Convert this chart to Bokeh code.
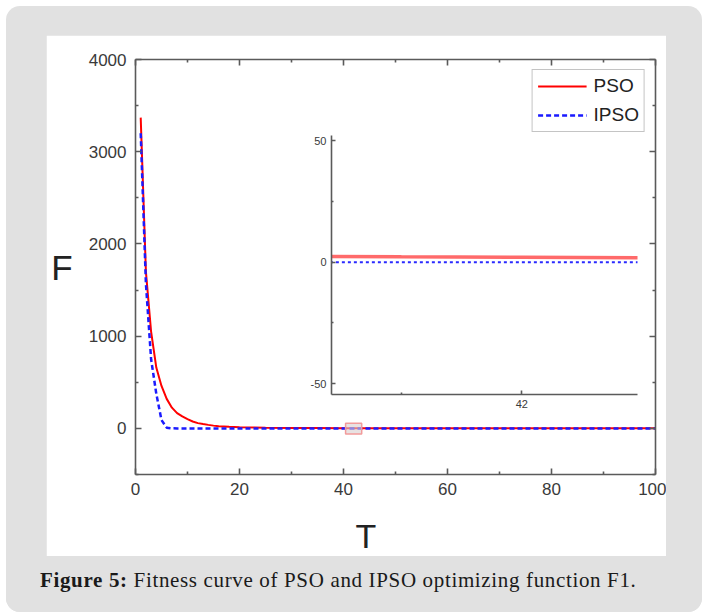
from bokeh.plotting import figure
from bokeh.models import Range1d, LinearAxis, FixedTicker, Legend, LegendItem, Title, Div
from bokeh.layouts import column
from bokeh.embed import file_html
from bokeh.resources import INLINE

# ---------------- data ----------------
T = [1, 2, 3, 4, 5, 6, 7, 8, 9, 10, 11, 12, 13, 14, 15, 16, 18, 20, 25, 30, 35,
     40, 41, 42, 43, 44, 45, 50, 60, 70, 80, 90, 100]
PSO = [3370, 1700, 1050, 660, 460, 320, 225, 166, 130, 100, 75, 57, 47, 38, 30, 24, 17, 12, 7, 4, 3,
       2.5, 2.2, 2.0, 1.8, 1.7, 1.6, 1.3, 1.0, 0.8, 0.6, 0.5, 0.4]
IPSO = [3200, 1570, 750, 375, 90, 8, 0.5, 0, 0, 0, 0, 0, 0, 0, 0, 0, 0, 0, 0, 0, 0,
        0, 0, 0, 0, 0, 0, 0, 0, 0, 0, 0, 0]
series_names = ["PSO", "IPSO"]

x_major = [0, 20, 40, 60, 80, 100]
x_minor = [10, 30, 50, 70, 90]
y_major = [0, 1000, 2000, 3000, 4000]
y_minor = [-500, 500, 1500, 2500, 3500]
x_limits = [0, 100]
y_limits = [-500, 4000]

# inset (zoom) window
inset_x = [40.42, 42.96]
inset_y = [-54.5, 52.2]
inset_x_major = [40, 42, 44]
inset_x_minor = [41, 43]
inset_y_major = [-50, 0, 50]
inset_y_minor = [-25, 25]
inset_y_labels = {-50: "-50", 0: "0", 50: "50"}
zoom_box_x = [40.4, 43.5]
zoom_box_y = [-60, 55]

caption_bold = "Figure 5:"
caption_rest = "Fitness curve of PSO and IPSO optimizing function F1."

AX = "#5a5a5a"
TXT = "#3a3a3a"
FONT = "Liberation Sans"
GRAY = "#e1e1e1"


def style_axis(ax, ticks=None, show_labels=True, size="17px", tin=6, tmin=3, standoff=9):
    ax.axis_line_color = AX
    ax.axis_line_width = 1.6
    ax.major_tick_line_color = AX
    ax.major_tick_line_width = 1.6
    ax.minor_tick_line_color = AX
    ax.minor_tick_line_width = 1.6
    ax.major_tick_in = tin
    ax.major_tick_out = 0
    ax.minor_tick_in = tmin
    ax.minor_tick_out = 0
    ax.major_label_text_font = FONT
    ax.major_label_text_color = TXT
    if show_labels:
        ax.major_label_text_font_size = size
        ax.major_label_standoff = standoff
    else:
        # mirrored axis: ticks only, no labels
        ax.major_label_overrides = {t: "" for t in ticks}
        ax.major_label_text_font_size = "1px"
        ax.major_label_standoff = 0


# ---------------- main plot ----------------
p = figure(width=620, height=540,
           x_range=Range1d(*x_limits), y_range=Range1d(*y_limits),
           output_backend="svg", toolbar_location=None,
           min_border_left=89, min_border_right=11, min_border_top=24, min_border_bottom=101,
           background_fill_color="white", border_fill_color="white",
           outline_line_color=None,
           margin=(29, 36, 0, 40))
p.xgrid.visible = False
p.ygrid.visible = False

xt = FixedTicker(ticks=x_major, minor_ticks=x_minor)
yt = FixedTicker(ticks=y_major, minor_ticks=y_minor)
bottom_ax = p.xaxis[0]
left_ax = p.yaxis[0]
bottom_ax.ticker = xt
left_ax.ticker = yt
style_axis(bottom_ax, standoff=8)
style_axis(left_ax, standoff=9)

left_ax.axis_label = "F"
left_ax.axis_label_orientation = "horizontal"
left_ax.axis_label_text_font = FONT
left_ax.axis_label_text_font_size = "35px"
left_ax.axis_label_text_font_style = "normal"
left_ax.axis_label_text_color = "#222222"
left_ax.axis_label_text_baseline = "alphabetic"
left_ax.axis_label_standoff = 13

top_ax = LinearAxis(ticker=xt)
right_ax = LinearAxis(ticker=yt)
style_axis(top_ax, ticks=x_major, show_labels=False)
style_axis(right_ax, ticks=y_major, show_labels=False)
p.add_layout(top_ax, "above")
p.add_layout(right_ax, "right")

p.add_layout(Title(text="T", align="left", offset=220, text_font=FONT,
                   text_font_size="34px", text_font_style="normal",
                   text_color="#222222", standoff=34), "below")

r_pso = p.line(T, PSO, line_color="#ff0000", line_width=2)
r_ipso = p.line(T, IPSO, line_color="#1a1aff", line_width=2.5, line_dash="5 3")

p.quad(left=[zoom_box_x[0]], right=[zoom_box_x[1]], bottom=[zoom_box_y[0]], top=[zoom_box_y[1]],
       fill_color="#d9cfcf", fill_alpha=0.6, line_color="#f29b9b", line_width=1.5)

legend = Legend(items=[LegendItem(label=series_names[0], renderers=[r_pso]),
                       LegendItem(label=series_names[1], renderers=[r_ipso])],
                location="top_right", margin=10, padding=5, spacing=7,
                glyph_width=49, glyph_height=20, label_height=20, label_standoff=7,
                label_text_font=FONT, label_text_font_size="19px", label_text_color="#222222",
                border_line_color="#8a8a8a", border_line_width=1.5,
                background_fill_color="white", background_fill_alpha=1)
p.add_layout(legend)

# ---------------- inset ----------------
# left/right borders match the main plot (column aligns plot frames)
ins = figure(width=406, height=290,
             x_range=Range1d(*inset_x), y_range=Range1d(*inset_y),
             output_backend="svg", toolbar_location=None,
             min_border_left=89, min_border_right=11, min_border_top=10, min_border_bottom=21,
             background_fill_alpha=0, border_fill_alpha=0, outline_line_color=None,
             margin=(-450, 0, 160, 236))
ins.xgrid.visible = False
ins.ygrid.visible = False
ins.xaxis.ticker = FixedTicker(ticks=inset_x_major, minor_ticks=inset_x_minor)
ins.yaxis.ticker = FixedTicker(ticks=inset_y_major, minor_ticks=inset_y_minor)
style_axis(ins.xaxis[0], size="11px", tin=4, tmin=2, standoff=5)
style_axis(ins.yaxis[0], size="11px", tin=4, tmin=2, standoff=5)
ins.yaxis[0].major_label_overrides = inset_y_labels
ins.line(T, PSO, line_color="#ff5050", line_width=3.5, line_alpha=0.85)
ins.line(T, IPSO, line_color="#2a2aff", line_width=2, line_dash="3 3")

# ---------------- caption (also covers the lower white strip) ----------------
cap_html = ('<div style="padding:11px 0 0 34px; font-family:\'Liberation Serif\'; font-size:21px; '
            'letter-spacing:0.65px; line-height:26px; color:#1a1a1a; white-space:nowrap;">'
            '<b>' + caption_bold + '</b> ' + caption_rest + '</div>')
cap = Div(text=cap_html, width=696, height=56, margin=(-19, 0, 0, 0),
          styles={"background-color": GRAY,
                  "border-bottom-left-radius": "14px",
                  "border-bottom-right-radius": "14px"})

layout = column(p, ins, cap, margin=(6, 0, 0, 6),
                styles={"background-color": GRAY, "border-radius": "14px"})

open("out.html", "w").write(file_html(layout, INLINE))
